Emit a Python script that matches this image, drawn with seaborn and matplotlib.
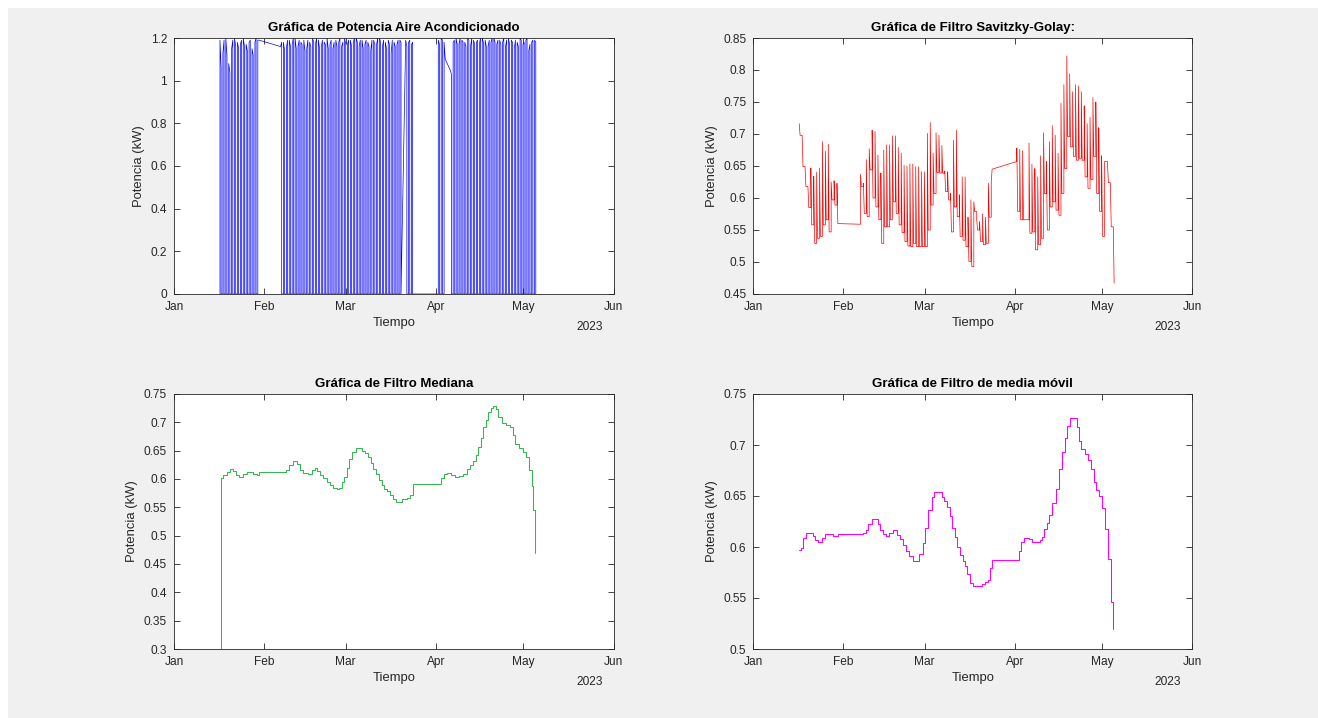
import numpy as np
import pandas as pd
import matplotlib
matplotlib.use("Agg")
import matplotlib.pyplot as plt
import matplotlib.dates as mdates
from matplotlib.patches import Rectangle
from matplotlib.ticker import FuncFormatter
import seaborn as sns

# ---------------------------------------------------------------- datos
T0 = pd.Timestamp("2023-01-01")
T1 = pd.Timestamp("2023-06-01")

# Potencia medida (kW): un periodo de encendido por día.
# Días (desde el 1 de enero) de cada bloque continuo de registros
aire_dias_a = np.arange(15.8, 29.0, 1.0)     # 16-29 ene
aire_dias_b = np.arange(36.6, 78.0, 1.0)     # 6 feb - 19 mar
aire_dias_c = np.arange(79.6, 82.0, 1.0)     # 21-23 mar
aire_dias_d = np.arange(90.8, 93.0, 1.0)     # 1-3 abr
aire_dias_e = np.arange(94.9, 124.0, 1.0)    # 5 abr - 4 may
# potencia al encender y al apagar cada día
aire_ini_a = [1.19, 1.13, 1.20, 1.08, 1.15, 1.20, 1.18, 1.17, 1.20, 1.17, 1.18, 1.15, 1.18, 1.19]
aire_fin_a = [1.06, 1.19, 1.12, 1.04, 1.19, 1.16, 1.15, 1.19, 1.16, 1.14, 1.19, 1.12, 1.20, 1.19]
aire_ini_b = [1.16, 1.18, 1.15, 1.19, 1.17, 1.20, 1.16, 1.18, 1.19, 1.15, 1.18, 1.20, 1.17, 1.19,
              1.16, 1.18, 1.20, 1.17, 1.15, 1.19, 1.18, 1.16, 1.20, 1.17, 1.19, 1.18, 1.20, 1.16,
              1.19, 1.17, 1.18, 1.14, 1.19, 1.17, 1.20, 1.16, 1.18, 1.19, 1.13, 1.18, 1.17, 1.19]
aire_fin_b = [1.18, 1.14, 1.19, 1.16, 1.20, 1.15, 1.19, 1.17, 1.14, 1.19, 1.16, 1.18, 1.20, 1.15,
              1.19, 1.17, 1.15, 1.19, 1.18, 1.16, 1.20, 1.18, 1.17, 1.19, 1.16, 1.20, 1.18, 1.19,
              1.15, 1.19, 1.16, 1.19, 1.17, 1.20, 1.18, 1.19, 1.15, 1.17, 1.19, 1.16, 1.19, 1.18]
aire_ini_c = [1.19, 1.18, 1.17]
aire_fin_c = [1.16, 1.19, 1.18]
aire_ini_d = [1.19, 1.20, 1.18]
aire_fin_d = [1.17, 1.19, 1.10]
aire_ini_e = [1.05, 1.18, 1.20, 1.17, 1.19, 1.18, 1.20, 1.16, 1.19, 1.18, 1.17, 1.20, 1.19, 1.16, 1.18,
              1.20, 1.17, 1.19, 1.18, 1.16, 1.20, 1.19, 1.15, 1.18, 1.20, 1.17, 1.19, 1.14, 1.18, 1.19]
aire_fin_e = [1.03, 1.19, 1.17, 1.20, 1.18, 1.16, 1.19, 1.20, 1.17, 1.19, 1.20, 1.18, 1.16, 1.19, 1.20,
              1.18, 1.19, 1.17, 1.20, 1.19, 1.17, 1.18, 1.19, 1.16, 1.19, 1.18, 1.20, 1.17, 1.19, 1.18]
# si el bloque empieza / termina con una muestra en cero
aire_cero_ini = [True, False, False, True, False]
aire_cero_fin = [False, True, True, False, True]

# Filtro Savitzky-Golay: valor máximo y valor final de cada día
sg_dias_1 = np.arange(15.8, 29.0, 1.0)
sg_dias_2 = np.arange(36.9, 82.0, 1.0)
sg_dias_3 = np.concatenate([np.arange(90.7, 93.0, 1.0), np.arange(94.9, 124.0, 1.0)])
sg_inicio = [0.716, 0.559, 0.657]
sg_pico_1 = [0.716, 0.698, 0.649, 0.618, 0.647, 0.634, 0.640, 0.647, 0.688, 0.673, 0.684, 0.625, 0.627, 0.623]
sg_base_1 = [0.698, 0.649, 0.618, 0.585, 0.558, 0.529, 0.537, 0.540, 0.558, 0.566, 0.547, 0.597, 0.589, 0.560]
sg_pico_2 = [0.637, 0.623, 0.660, 0.677, 0.706, 0.704, 0.667, 0.639, 0.675, 0.683, 0.683, 0.697, 0.697,
             0.679, 0.670, 0.651, 0.650, 0.653, 0.653, 0.649, 0.649, 0.641, 0.641,
             0.701, 0.718, 0.670, 0.702, 0.698, 0.682, 0.642, 0.641, 0.607, 0.690, 0.706, 0.605,
             0.633, 0.633, 0.570, 0.597, 0.594, 0.566, 0.563, 0.575, 0.570, 0.623, 0.624]
sg_base_2 = [0.618, 0.576, 0.571, 0.644, 0.600, 0.586, 0.566, 0.529, 0.555, 0.555, 0.566, 0.594, 0.576,
             0.558, 0.546, 0.532, 0.525, 0.524, 0.529, 0.524, 0.524, 0.524, 0.524,
             0.550, 0.589, 0.607, 0.640, 0.639, 0.639, 0.610, 0.597, 0.547, 0.586, 0.571, 0.540,
             0.534, 0.524, 0.501, 0.493, 0.579, 0.550, 0.532, 0.527, 0.529, 0.570, 0.645]
sg_pico_3 = [0.678, 0.676, 0.674, 0.686, 0.653, 0.646, 0.633, 0.666, 0.702, 0.657, 0.688, 0.713, 0.698,
             0.670, 0.748, 0.777, 0.822, 0.794, 0.766, 0.777, 0.775, 0.766, 0.744, 0.716, 0.726,
             0.757, 0.750, 0.710, 0.666, 0.657, 0.657, 0.624, 0.555]
sg_base_3 = [0.579, 0.566, 0.566, 0.545, 0.547, 0.519, 0.527, 0.537, 0.607, 0.550, 0.586, 0.594, 0.581,
             0.573, 0.607, 0.646, 0.696, 0.680, 0.665, 0.659, 0.662, 0.659, 0.633, 0.615, 0.629,
             0.665, 0.607, 0.579, 0.540, 0.657, 0.624, 0.555, 0.467]

# Filtro mediana (escalones)
med_dia = [15.90, 16.15, 16.95, 18.09, 19.24, 20.15, 21.30, 22.44, 23.59, 24.96, 26.11, 27.25, 28.40,
           29.31, 38.47, 39.62, 40.76, 42.14, 43.28, 44.43, 46.15, 47.29, 48.44, 49.24, 50.15,
           51.30, 52.45, 53.59, 54.73, 55.88, 56.80, 57.60, 58.40, 59.32, 60.23, 61.26, 62.41,
           64.47, 65.61, 66.76, 67.56, 68.48, 69.39, 70.42, 71.34, 72.25, 73.28, 74.20, 75.12,
           76.26, 78.21, 79.93, 81.07, 81.99, 91.61, 92.75, 93.90, 95.04, 96.53, 98.02, 99.39,
           100.54, 101.68, 102.83, 103.74, 104.54, 105.35, 106.26, 107.18, 107.98, 108.90, 109.70,
           110.61, 111.42, 112.56, 114.05, 115.42, 116.34, 117.14, 118.63, 119.78, 120.92, 122.06,
           122.87, 123.44, 124.13]
med_val = [0.000, 0.602, 0.607, 0.612, 0.618, 0.614, 0.607, 0.604, 0.608, 0.612, 0.612, 0.609, 0.607,
           0.612, 0.616, 0.625, 0.631, 0.626, 0.616, 0.610, 0.608, 0.616, 0.620, 0.614, 0.607,
           0.601, 0.594, 0.589, 0.585, 0.582, 0.585, 0.594, 0.604, 0.620, 0.635, 0.647, 0.654,
           0.649, 0.645, 0.638, 0.628, 0.618, 0.608, 0.598, 0.589, 0.582, 0.578, 0.571, 0.565,
           0.560, 0.565, 0.567, 0.571, 0.591, 0.601, 0.608, 0.610, 0.607, 0.604, 0.605, 0.608,
           0.618, 0.625, 0.632, 0.642, 0.657, 0.673, 0.691, 0.704, 0.718, 0.725, 0.728,
           0.724, 0.710, 0.698, 0.695, 0.691, 0.678, 0.661, 0.655, 0.647, 0.638, 0.616,
           0.588, 0.545, 0.469]

# Filtro de media móvil (escalones)
mm_dia = [15.72, 16.29, 16.98, 18.13, 20.42, 21.22, 22.37, 23.52, 24.67, 27.30, 29.25, 37.62, 38.77,
          39.57, 40.72, 43.01, 43.58, 44.50, 45.65, 46.79, 47.94, 49.55, 50.46, 51.61, 52.53, 53.67,
          54.82, 57.11, 58.26, 59.18, 60.21, 61.36, 62.27, 64.80, 65.60, 66.52, 67.66, 68.47, 69.38,
          70.19, 71.10, 72.02, 72.82, 73.63, 74.54, 75.69, 78.56, 79.70, 80.85, 81.42, 82.23, 91.29,
          91.97, 93.12, 94.95, 96.10, 98.62, 99.20, 100.00, 100.92, 101.83, 102.98, 104.13, 105.27,
          106.42, 107.22, 108.03, 109.17, 111.47, 112.15, 112.96, 114.10, 115.25, 116.17, 117.20,
          118.12, 119.03, 119.95, 120.98, 122.13, 123.05, 123.85]
mm_val = [0.597, 0.599, 0.609, 0.614, 0.611, 0.607, 0.605, 0.609, 0.613, 0.611, 0.613, 0.614, 0.617,
          0.623, 0.627, 0.623, 0.617, 0.613, 0.611, 0.614, 0.617, 0.612, 0.608, 0.602, 0.596, 0.591,
          0.586, 0.593, 0.604, 0.619, 0.636, 0.649, 0.654, 0.649, 0.645, 0.639, 0.630, 0.619, 0.610,
          0.600, 0.592, 0.586, 0.581, 0.574, 0.565, 0.562, 0.564, 0.566, 0.568, 0.579, 0.587, 0.596,
          0.605, 0.609, 0.608, 0.605, 0.607, 0.610, 0.618, 0.624, 0.631, 0.643, 0.657, 0.676,
          0.693, 0.707, 0.719, 0.726, 0.718, 0.704, 0.696, 0.691, 0.685, 0.676, 0.664,
          0.656, 0.650, 0.638, 0.618, 0.588, 0.546, 0.520]

DUR_ON = 0.40   # fracción del día con el equipo encendido
DUR_SG = 0.30


def fechas(dias):
    return T0 + pd.to_timedelta(np.asarray(dias, dtype=float), unit="D")


def serie_aire():
    bloques = [(aire_dias_a, aire_ini_a, aire_fin_a), (aire_dias_b, aire_ini_b, aire_fin_b),
               (aire_dias_c, aire_ini_c, aire_fin_c), (aire_dias_d, aire_ini_d, aire_fin_d),
               (aire_dias_e, aire_ini_e, aire_fin_e)]
    t, p = [], []
    for k, (dias, ini, fin) in enumerate(bloques):
        n = len(dias)
        for i, (d, a, b) in enumerate(zip(dias, ini, fin)):
            if i > 0 or aire_cero_ini[k]:
                t.append(d); p.append(0.0)
            t += [d, d + DUR_ON]; p += [a, b]
            if i < n - 1 or aire_cero_fin[k]:
                t.append(d + DUR_ON); p.append(0.0)
    return pd.DataFrame({"t": fechas(t), "p": p})


def serie_sg():
    bloques = [(sg_dias_1, sg_pico_1, sg_base_1), (sg_dias_2, sg_pico_2, sg_base_2),
               (sg_dias_3, sg_pico_3, sg_base_3)]
    t, v = [], []
    for k, (dias, pico, base) in enumerate(bloques):
        prev = sg_inicio[k]
        for d, a, b in zip(dias, pico, base):
            t += [d, d, d + DUR_SG]; v += [prev, a, b]
            prev = b
    return pd.DataFrame({"t": fechas(t), "p": v})


# ---------------------------------------------------------------- estilo
sns.set_theme(style="white")
plt.rcParams["font.family"] = ["Liberation Sans", "DejaVu Sans"]
GRIS = "#262626"

fig = plt.figure(figsize=(13.18, 7.18), dpi=100, facecolor="white")
fig.add_artist(Rectangle((8 / 1318, 0), 1, 1 - 8 / 718, transform=fig.transFigure,
                         facecolor="#f0f0f0", edgecolor="none", zorder=-10))

W, H = 1318, 718
def caja(x0, y0, x1, y1):
    return [x0 / W, 1 - y1 / H, (x1 - x0) / W, (y1 - y0) / H]

ax1 = fig.add_axes(caja(174, 38, 613.5, 294))
ax2 = fig.add_axes(caja(753.3, 38, 1192, 294))
ax3 = fig.add_axes(caja(174, 394, 613.5, 649))
ax4 = fig.add_axes(caja(753.3, 394, 1192, 649))


def estilo(ax, ylim, yticks, titulo):
    ax.set_facecolor("white")
    ax.set_xlim(T0, T1)
    ax.set_ylim(*ylim)
    ax.set_yticks(yticks)
    ax.yaxis.set_major_formatter(FuncFormatter(lambda v, p: f"{v:g}"))
    ax.xaxis.set_major_locator(mdates.MonthLocator())
    ax.xaxis.set_major_formatter(mdates.DateFormatter("%b"))
    ax.tick_params(direction="in", length=4, width=0.6, colors=GRIS, labelsize=8.6,
                   top=True, right=True, bottom=True, left=True, pad=5)
    for s in ax.spines.values():
        s.set_visible(True)
        s.set_color(GRIS)
        s.set_linewidth(0.6)
    ax.set_title(titulo, fontsize=9.5, fontweight="bold", color="black", pad=5)
    ax.set_xlabel("Tiempo", fontsize=9.4, color=GRIS, labelpad=3)
    ax.set_ylabel("Potencia (kW)", fontsize=9.4, color=GRIS)
    ax.text(0.945, -0.13, "2023", transform=ax.transAxes, ha="center", va="center",
            fontsize=8.6, color=GRIS)


sns.lineplot(data=serie_aire(), x="t", y="p", ax=ax1, sort=False, estimator=None,
             color="#0000ff", linewidth=0.5)
estilo(ax1, (0, 1.2), np.round(np.arange(0, 1.21, 0.2), 1), "Gráfica de Potencia Aire Acondicionado")

sns.lineplot(data=serie_sg(), x="t", y="p", ax=ax2, sort=False, estimator=None,
             color="#ff0000", linewidth=0.5)
estilo(ax2, (0.45, 0.85), np.round(np.arange(0.45, 0.851, 0.05), 2), "Gráfica de Filtro Savitzky-Golay:")

sns.lineplot(x=fechas(med_dia), y=med_val, ax=ax3, sort=False, estimator=None,
             color="#35b84f", linewidth=0.75, drawstyle="steps-post")
estilo(ax3, (0.3, 0.75), np.round(np.arange(0.3, 0.751, 0.05), 2), "Gráfica de Filtro Mediana")

sns.lineplot(x=fechas(mm_dia), y=mm_val, ax=ax4, sort=False, estimator=None,
             color="#ff00ff", linewidth=0.75, drawstyle="steps-post")
estilo(ax4, (0.5, 0.75), np.round(np.arange(0.5, 0.751, 0.05), 2), "Gráfica de Filtro de media móvil")

fig.savefig("out.png", dpi=100, facecolor=fig.get_facecolor())
